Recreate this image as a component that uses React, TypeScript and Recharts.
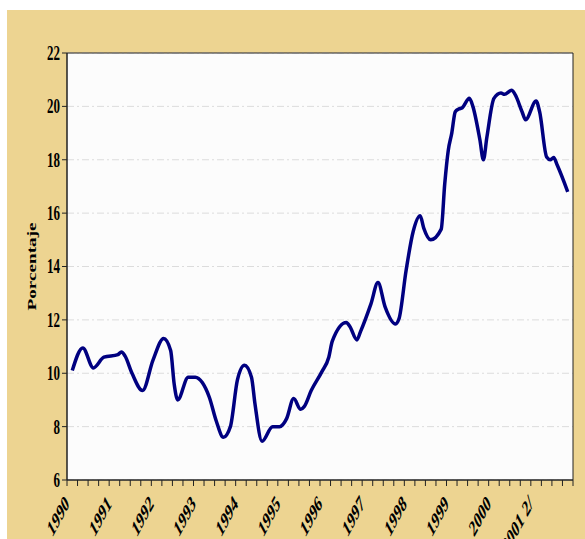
import React from 'react';
import { LineChart, Line, XAxis, YAxis, CartesianGrid, ReferenceArea } from 'recharts';

// Observation month (YYYY-MM) and value in percent
const periods = [
  '1990-02', '1990-05', '1990-08', '1990-11',
  '1991-03', '1991-04', '1991-05', '1991-07', '1991-10',
  '1992-01', '1992-04', '1992-06', '1992-07', '1992-08', '1992-11',
  '1993-01', '1993-03', '1993-05', '1993-07', '1993-09', '1993-11',
  '1994-01', '1994-03', '1994-05', '1994-06', '1994-08', '1994-11',
  '1995-01', '1995-03', '1995-05', '1995-07', '1995-08', '1995-10',
  '1996-01', '1996-03', '1996-04', '1996-08', '1996-09', '1996-11', '1996-12',
  '1997-03', '1997-05', '1997-07', '1997-10', '1997-11',
  '1998-01', '1998-03', '1998-05', '1998-06', '1998-08', '1998-11', '1998-12',
  '1999-01', '1999-02', '1999-03', '1999-04', '1999-05', '1999-07', '1999-08', '1999-10', '1999-11', '1999-12',
  '2000-02', '2000-04', '2000-05', '2000-07', '2000-08', '2000-10', '2000-11',
  '2001-02', '2001-03', '2001-05', '2001-06', '2001-07', '2001-08', '2001-11',
];

const rates = [
  10.1, 10.95, 10.2, 10.6,
  10.7, 10.8, 10.65, 10.0, 9.35,
  10.5, 11.3, 10.85, 9.6, 9.0, 9.85,
  9.85, 9.65, 9.1, 8.2, 7.6, 8.0,
  9.75, 10.3, 9.85, 8.85, 7.45, 8.0,
  8.0, 8.3, 9.05, 8.65, 8.75, 9.35,
  10.05, 10.6, 11.2, 11.9, 11.75, 11.25, 11.55,
  12.6, 13.4, 12.5, 11.85, 12.05,
  13.85, 15.3, 15.9, 15.45, 15.0, 15.4, 17.1,
  18.35, 19.0, 19.8, 19.9, 19.95, 20.3, 20.0, 18.75, 18.0, 18.85,
  20.3, 20.5, 20.45, 20.6, 20.45, 19.8, 19.5,
  20.2, 19.8, 18.1, 18.0, 18.08, 17.8, 16.8,
];

const yearLabels = ['1990', '1991', '1992', '1993', '1994', '1995', '1996', '1997', '1998', '1999', '2000', '2001 2/'];
const yTicks = [6, 8, 10, 12, 14, 16, 18, 20, 22];
const yAxisTitle = 'Porcentaje';

const firstYear = 1990;
const data = periods.map((p, i) => {
  const [yy, mm] = p.split('-').map(Number);
  return { t: yy + (mm - 0.5) / 12, value: rates[i] };
});
const xTicks: number[] = [];
for (let q = 0; q <= yearLabels.length * 4; q++) xTicks.push(firstYear + q / 4);

const STRETCH = 1.6;
const X_STRETCH = 1.85;
const FONT = '"Liberation Serif", "Times New Roman", serif';

const XTick = (props: any) => {
  const { x, y, payload } = props;
  const v = payload.value;
  if (Math.abs(v - Math.round(v)) > 1e-6) return <g />;
  const label = yearLabels[Math.round(v) - firstYear];
  if (!label) return <g />;
  return (
    <g transform={`translate(${x + 3}, ${y + 17}) scale(1, ${X_STRETCH}) rotate(-45)`}>
      <text x={0} y={0} textAnchor="end" fontFamily={FONT} fontWeight="bold" fontSize={12.5} fill="#000">
        {label}
      </text>
    </g>
  );
};

const YTick = (props: any) => {
  const { x, y, payload } = props;
  return (
    <g transform={`translate(${x}, ${y}) scale(1, ${STRETCH})`}>
      <text x={0} y={0} dy="0.33em" textAnchor="end" fontFamily={FONT} fontWeight="bold" fontSize={13} fill="#000">
        {payload.value}
      </text>
    </g>
  );
};

const YTitle = (props: any) => {
  const { viewBox } = props;
  const cx = viewBox.x + 25;
  const cy = viewBox.y + viewBox.height / 2;
  return (
    <g transform={`translate(${cx}, ${cy}) scale(1, ${STRETCH}) rotate(-90)`}>
      <text x={0} y={0} dy="0.33em" textAnchor="middle" fontFamily={FONT} fontWeight="bold" fontSize={12} fill="#000">
        {yAxisTitle}
      </text>
    </g>
  );
};

export default function App() {
  return (
    <div style={{ position: 'absolute', left: 7, top: 10, width: 578, height: 529, background: '#EDD491' }}>
      <LineChart width={578} height={529} data={data} margin={{ top: 43, right: 12, left: 0, bottom: 0 }}>
        <CartesianGrid
          vertical={false}
          stroke="#DCDCDC"
          strokeDasharray="7 3 2 3"
          fill="#FCFCFC"
          fillOpacity={1}
        />
        <XAxis
          dataKey="t"
          type="number"
          domain={[firstYear, firstYear + yearLabels.length]}
          ticks={xTicks}
          interval={0}
          tickSize={6}
          height={59}
          tick={<XTick />}
          axisLine={{ stroke: '#222' }}
          tickLine={{ stroke: '#222' }}
          allowDataOverflow
        />
        <YAxis
          domain={[6, 22]}
          ticks={yTicks}
          interval={0}
          tickSize={5}
          width={60}
          tick={<YTick />}
          axisLine={{ stroke: '#222' }}
          tickLine={{ stroke: '#222' }}
          label={{ value: yAxisTitle, position: 'center', content: <YTitle /> }}
          allowDataOverflow
        />
        <ReferenceArea
          x1={firstYear}
          x2={firstYear + yearLabels.length}
          y1={6}
          y2={22}
          fill="none"
          stroke="#222"
          strokeWidth={1}
        />
        <Line
          type="monotone"
          dataKey="value"
          stroke="#000080"
          strokeWidth={3.5}
          dot={false}
          isAnimationActive={false}
        />
      </LineChart>
    </div>
  );
}
